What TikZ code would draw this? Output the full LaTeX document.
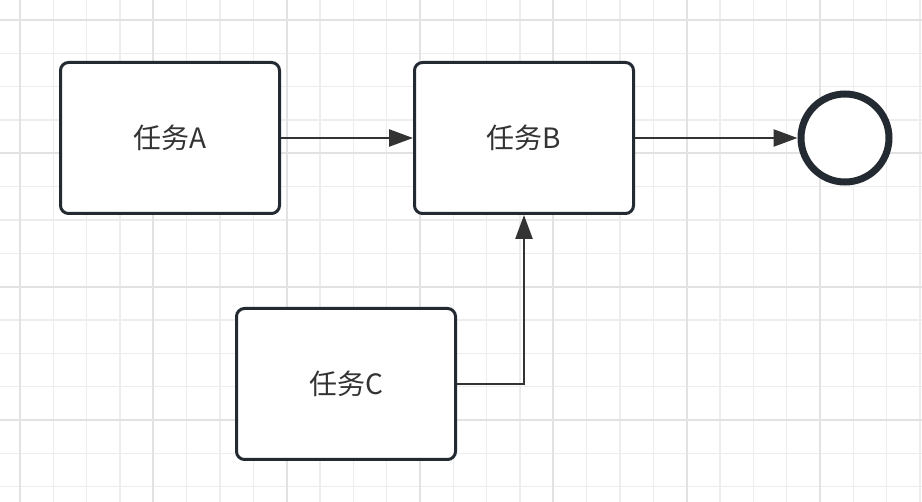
\documentclass[tikz,border=0pt]{standalone}
\usepackage{fontspec}
\newfontfamily\cjk{Noto Sans CJK SC}
\usetikzlibrary{arrows.meta}
\definecolor{edge}{HTML}{232A31}
\definecolor{ink}{HTML}{333333}
\definecolor{gridminor}{HTML}{EDEDED}
\definecolor{gridmajor}{HTML}{E2E2E2}
\tikzset{
  taskbox/.style={draw=edge, line width=3pt, rounded corners=8pt, fill=white,
    minimum width=219pt, minimum height=151pt, inner sep=0pt,
    font=\cjk\fontsize{28pt}{32pt}\selectfont, text=ink},
  endcircle/.style={circle, draw=edge, line width=7pt, fill=white, minimum size=88pt, inner sep=0pt},
  flow/.style={draw=ink, line width=2.5pt, -{Triangle[length=24pt,width=17pt]}}
}
\begin{document}
\begin{tikzpicture}[x=1pt,y=-1pt]
\useasboundingbox (0,0) rectangle (922,502);
\fill[white] (0,0) rectangle (922,502);
% minor grid
\foreach \i in {-4,...,27} {
  \draw[gridminor, line width=1.5pt] ({20+33.333*\i},0) -- ({20+33.333*\i},502);
}
\foreach \i in {-1,...,15} {
  \draw[gridminor, line width=1.5pt] (0,{20+33.333*\i}) -- (922,{20+33.333*\i});
}
% major grid
\foreach \i in {0,...,6} {
  \draw[gridmajor, line width=2pt] ({20+133.333*\i},0) -- ({20+133.333*\i},502);
}
\foreach \i in {0,...,3} {
  \draw[gridmajor, line width=2pt] (0,{20+133.333*\i}) -- (922,{20+133.333*\i});
}
\node[taskbox] (A) at (170,138) {任务A};
\node[taskbox] (B) at (524,138) {任务B};
\node[taskbox] (C) at (346,384) {任务C};
\node[endcircle] (E) at (845,138) {};
\draw[flow] (A.east) -- (B.west);
\draw[flow] (B.east) -- (E.west);
\draw[flow] (C.east) -| (B.south);
\end{tikzpicture}
\end{document}
